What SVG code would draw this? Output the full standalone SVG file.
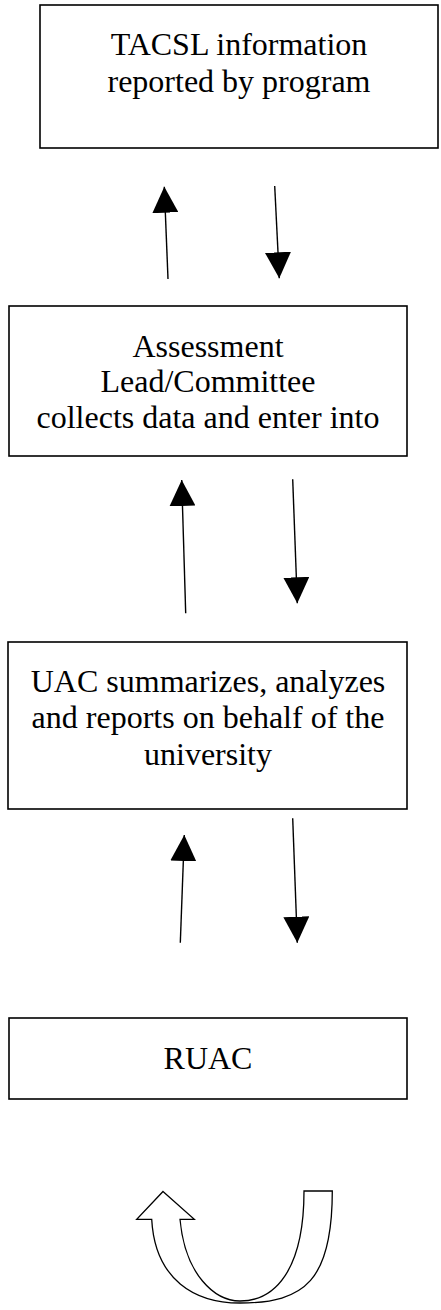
<svg xmlns="http://www.w3.org/2000/svg" width="441" height="1310" viewBox="0 0 441 1310">
<style>
.box{fill:#fff;stroke:#000;stroke-width:1.6}
.lbl{font-family:"Liberation Serif","Times New Roman",serif;font-size:32px;fill:#000;text-anchor:middle}
.con{stroke:#000;stroke-width:1.4;fill:none}
.uturn{fill:#fff;stroke:#000;stroke-width:1.3;stroke-linejoin:miter}
</style>
<defs>
<marker id="ah" markerUnits="userSpaceOnUse" markerWidth="26" markerHeight="26" refX="26" refY="13" orient="auto">
<path d="M0,0 L26,13 L0,26 z" fill="#000"/>
</marker>
</defs>
<g id="node-tacsl">
<rect class="box" x="40" y="5" width="398" height="143"/>
<text class="lbl" x="239" y="55">TACSL information</text>
<text class="lbl" x="239" y="92">reported by program</text>
</g>
<g id="node-assessment">
<rect class="box" x="9" y="306" width="398" height="150"/>
<text class="lbl" x="208" y="357">Assessment</text>
<text class="lbl" x="208" y="392">Lead/Committee</text>
<text class="lbl" x="208" y="428">collects data and enter into</text>
</g>
<g id="node-uac">
<rect class="box" x="8" y="642" width="399" height="167"/>
<text class="lbl" x="208" y="692">UAC summarizes, analyzes</text>
<text class="lbl" x="208" y="728">and reports on behalf of the</text>
<text class="lbl" x="208" y="765">university</text>
</g>
<g id="node-ruac">
<rect class="box" x="9" y="1018" width="398" height="81"/>
<text class="lbl" x="208" y="1069">RUAC</text>
</g>
<g id="connectors">
<line class="con" x1="168" y1="279" x2="164.3" y2="186.7" marker-end="url(#ah)"/>
<line class="con" x1="274.7" y1="186" x2="279.3" y2="278.3" marker-end="url(#ah)"/>
<line class="con" x1="185.7" y1="613.3" x2="181.7" y2="480" marker-end="url(#ah)"/>
<line class="con" x1="292.7" y1="479.3" x2="297.3" y2="603.3" marker-end="url(#ah)"/>
<line class="con" x1="180.3" y1="942.7" x2="184.3" y2="835" marker-end="url(#ah)"/>
<line class="con" x1="292.7" y1="818.3" x2="297.3" y2="942.7" marker-end="url(#ah)"/>
</g>
<g id="uturn-arrow">
<path class="uturn" d="M163,1191.5 L194.3,1219.3 L180,1219.3 C185,1275 215,1301 240,1301 C275,1301 304,1270 304,1191 L332.3,1191 C332.3,1280 305,1303 240,1303 C195,1303 155,1280 151.7,1219.3 L136.7,1219.3 Z"/>
</g>
</svg>
